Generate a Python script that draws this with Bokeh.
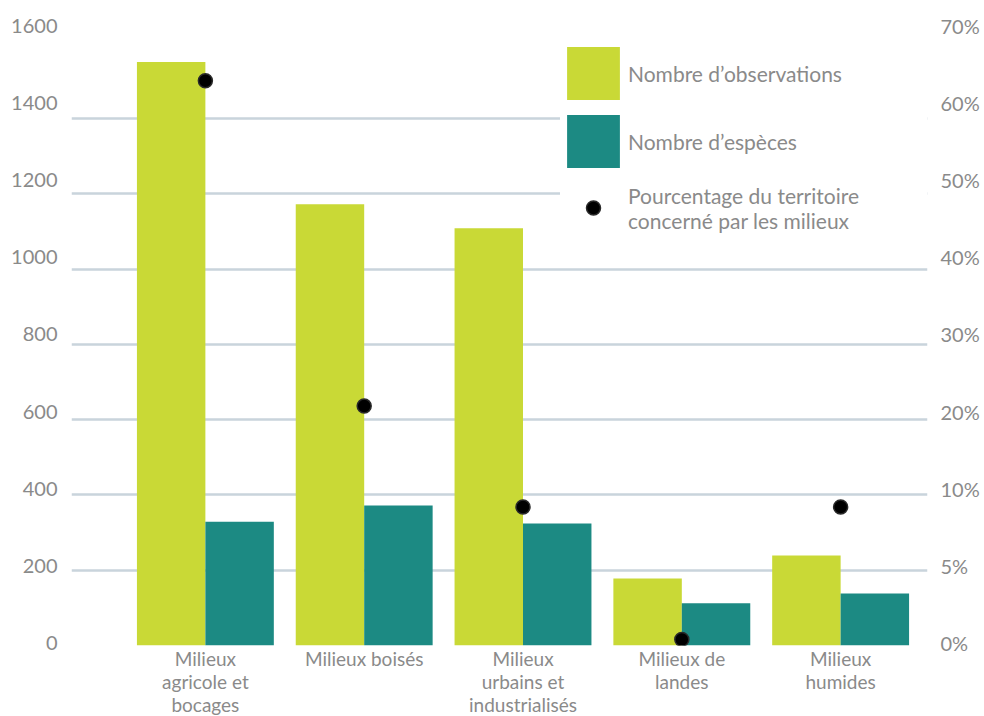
from bokeh.plotting import figure
from bokeh.models import (Range1d, FixedTicker, LinearAxis, Legend, LegendItem,
                          ColumnDataSource)
from bokeh.transform import dodge
from bokeh.embed import file_html
from bokeh.resources import INLINE
import numpy as np

# ---- data ----
categories = ["Milieux\nagricole et\nbocages", "Milieux boisés",
              "Milieux\nurbains et\nindustrialisés", "Milieux de\nlandes",
              "Milieux\nhumides"]
observations = [1550, 1172, 1108, 178, 239]
especes = [329, 372, 324, 112, 138]
pct_territoire = [65.0, 21.8, 9.2, 0.4, 9.2]

count_ticks = [0, 200, 400, 600, 800, 1000, 1200, 1400, 1600]
pct_tick_values = [0, 5, 10, 20, 30, 40, 50, 60, 70]
pct_tick_labels = ["0%", "5%", "10%", "20%", "30%", "40%", "50%", "60%", "70%"]

series_names = ["Nombre d’observations", "Nombre d’espèces",
                "Pourcentage du territoire\nconcerné par les milieux"]

# ---- styles ----
LIME = "#c9d936"
TEAL = "#1c8a83"
GRID = "#c9d4dc"
TXT = "#8a8a8a"
FONT = "Lato"
FS_AX = "20px"
FS_X = "19px"
FS_LEG = "21px"

xs = list(range(len(categories)))
# right axis is piecewise (0,5,10,20..70%) aligned on the count ticks
pct_on_axis = np.interp(pct_territoire, pct_tick_values, count_ticks)

src = ColumnDataSource(dict(x=xs, obs=observations, esp=especes,
                            pct=pct_territoire, pct_y=pct_on_axis))

p = figure(frame_width=856, frame_height=640,
           x_range=Range1d(-0.843, 4.547), y_range=Range1d(0, 1700),
           output_backend="svg", toolbar_location=None,
           min_border_left=71, min_border_right=57, min_border_top=5,
           min_border_bottom=71)
p.outline_line_color = None
p.background_fill_color = "white"
p.border_fill_color = "white"
# tick labels of the original sit slightly above their gridlines
p.extra_y_ranges = {"tick_labels": Range1d(-5.2, 1651.8)}

r_obs = p.vbar(x=dodge("x", -0.2155, range=p.x_range), top="obs", width=0.431,
               source=src, fill_color=LIME, line_color=None)
r_esp = p.vbar(x=dodge("x", 0.2155, range=p.x_range), top="esp", width=0.431,
               source=src, fill_color=TEAL, line_color=None)
r_pct = p.scatter(x="x", y="pct_y", source=src, size=14, fill_color="black",
                  line_color="#2a2a2a", line_width=1.5)

# grid
p.xgrid.visible = False
p.ygrid.ticker = FixedTicker(ticks=count_ticks[:-1])
p.ygrid.grid_line_color = GRID
p.ygrid.grid_line_width = 2.5
p.ygrid.level = "underlay"


def style_axis(ax, fs=FS_AX):
    ax.axis_line_color = None
    ax.major_tick_line_color = None
    ax.minor_tick_line_color = None
    ax.major_tick_out = 0
    ax.major_tick_in = 0
    ax.minor_tick_out = 0
    ax.minor_tick_in = 0
    ax.major_label_text_color = TXT
    ax.major_label_text_font = FONT
    ax.major_label_text_font_size = fs


# left axis
ly = p.yaxis[0]
ly.y_range_name = "tick_labels"
ly.ticker = FixedTicker(ticks=count_ticks)
style_axis(ly)
ly.major_label_standoff = 14

# right axis (percent)
ry = LinearAxis(y_range_name="tick_labels", ticker=FixedTicker(ticks=count_ticks),
                major_label_overrides={t: l for t, l in zip(count_ticks, pct_tick_labels)})
style_axis(ry)
ry.major_label_standoff = 13
p.add_layout(ry, "right")

# bottom axis
bx = p.xaxis[0]
bx.ticker = FixedTicker(ticks=xs)
bx.major_label_overrides = {i: c for i, c in zip(xs, categories)}
style_axis(bx, FS_X)
bx.major_label_text_line_height = 1.0
bx.major_label_standoff = 1

common = dict(margin=0, label_text_font=FONT, label_text_font_size=FS_LEG,
              label_text_color=TXT, border_line_color=None,
              background_fill_color="white", background_fill_alpha=1.0)

legend1 = Legend(items=[LegendItem(label=series_names[0], renderers=[r_obs]),
                        LegendItem(label=series_names[1], renderers=[r_esp])],
                 location=(489, 471), glyph_width=66, glyph_height=66,
                 spacing=2, padding=20, label_standoff=2,
                 label_width=299, label_height=66, **common)
legend2 = Legend(items=[LegendItem(label=series_names[2], renderers=[r_pct])],
                 location=(489, 408), glyph_width=66, glyph_height=35,
                 spacing=0, padding=10, label_standoff=2,
                 label_width=301, label_height=59,
                 label_text_line_height=1.4, **common)
p.add_layout(legend1)
p.add_layout(legend2)

open("out.html", "w").write(file_html(p, INLINE))
